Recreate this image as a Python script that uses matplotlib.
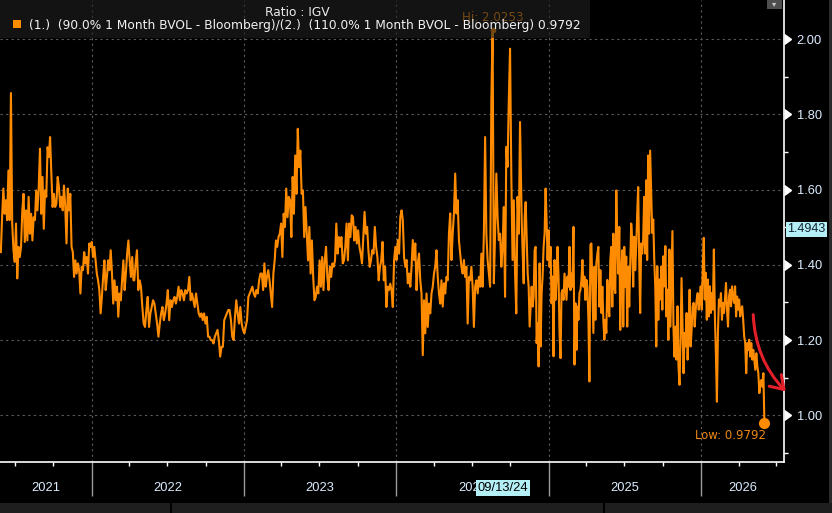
import numpy as np
import pandas as pd
import matplotlib
matplotlib.use("Agg")
import matplotlib.pyplot as plt
import matplotlib.dates as mdates
import matplotlib.markers as mmarkers
import matplotlib.transforms as mtrans
from matplotlib.patches import Rectangle, FancyArrowPatch

# ratio readings, taken off the chart piece by piece (start date, end date, values)
seg1 = ("2021-05-28", "2022-04-11")
ratio_1 = [1.434, 1.527, 1.603, 1.536, 1.572, 1.519, 1.651, 1.519, 1.857, 1.510, 1.439, 1.408,
           1.510, 1.364, 1.448, 1.421, 1.448, 1.545, 1.589, 1.461, 1.545, 1.465, 1.581, 1.483,
           1.536, 1.465, 1.527, 1.519, 1.598, 1.545, 1.607, 1.709, 1.536, 1.634, 1.496, 1.598,
           1.581, 1.713, 1.687, 1.740, 1.642, 1.554, 1.589, 1.554, 1.563, 1.634, 1.607, 1.554,
           1.581, 1.545, 1.611, 1.554, 1.457, 1.603, 1.545, 1.589, 1.448, 1.434, 1.368, 1.412,
           1.377, 1.404, 1.386, 1.324, 1.395, 1.386, 1.434, 1.404, 1.421, 1.377, 1.457, 1.448,
           1.461, 1.421, 1.448, 1.412, 1.377, 1.359, 1.333, 1.271, 1.315, 1.368, 1.412, 1.333,
           1.368, 1.412, 1.386, 1.439, 1.377, 1.297, 1.359, 1.306, 1.342, 1.262, 1.324, 1.306,
           1.359, 1.412, 1.333, 1.377, 1.430, 1.465, 1.412, 1.368, 1.421, 1.359]

seg2 = ("2022-04-13", "2023-02-16")
ratio_2 = [1.359, 1.404, 1.439, 1.333, 1.359, 1.342, 1.288, 1.244, 1.235, 1.280, 1.315, 1.235,
           1.271, 1.288, 1.306, 1.297, 1.271, 1.244, 1.209, 1.244, 1.271, 1.288, 1.253, 1.271,
           1.297, 1.333, 1.253, 1.306, 1.288, 1.306, 1.315, 1.297, 1.315, 1.342, 1.306, 1.333,
           1.324, 1.306, 1.333, 1.324, 1.333, 1.368, 1.306, 1.324, 1.306, 1.288, 1.324, 1.297,
           1.271, 1.262, 1.271, 1.253, 1.271, 1.244, 1.262, 1.209, 1.209, 1.200, 1.200, 1.191,
           1.209, 1.218, 1.227, 1.200, 1.156, 1.182, 1.182, 1.253, 1.262, 1.271, 1.280, 1.280,
           1.253, 1.209, 1.200, 1.262, 1.306, 1.271, 1.244, 1.288, 1.244, 1.227, 1.218, 1.235,
           1.253, 1.315, 1.324, 1.333, 1.342, 1.324, 1.315, 1.333, 1.324, 1.359, 1.377, 1.377,
           1.333]

seg3 = ("2023-02-19", "2023-12-27")
ratio_3 = [1.404, 1.342, 1.368, 1.386, 1.359, 1.324, 1.288, 1.377, 1.412, 1.465, 1.448, 1.474,
           1.483, 1.510, 1.421, 1.536, 1.501, 1.603, 1.527, 1.581, 1.572, 1.474, 1.634, 1.536,
           1.691, 1.589, 1.762, 1.660, 1.704, 1.589, 1.598, 1.474, 1.554, 1.483, 1.412, 1.501,
           1.377, 1.465, 1.368, 1.306, 1.315, 1.342, 1.324, 1.412, 1.342, 1.421, 1.333, 1.412,
           1.448, 1.368, 1.333, 1.395, 1.368, 1.404, 1.395, 1.412, 1.510, 1.430, 1.474, 1.448,
           1.474, 1.404, 1.412, 1.448, 1.510, 1.412, 1.510, 1.474, 1.532, 1.527, 1.465, 1.501,
           1.457, 1.492, 1.448, 1.430, 1.404, 1.474, 1.541, 1.483, 1.501, 1.439, 1.395, 1.412,
           1.439, 1.430, 1.501, 1.448, 1.421, 1.359, 1.395, 1.412, 1.461, 1.359, 1.395, 1.288,
           1.342, 1.333, 1.350, 1.333, 1.288, 1.412]

seg4 = ("2023-12-30", "2024-10-24")
ratio_4 = [1.448, 1.413, 1.466, 1.430, 1.528, 1.545, 1.519, 1.421, 1.395, 1.413, 1.351, 1.377,
           1.342, 1.395, 1.466, 1.413, 1.457, 1.333, 1.404, 1.430, 1.359, 1.324, 1.160, 1.306,
           1.218, 1.324, 1.235, 1.297, 1.271, 1.324, 1.342, 1.377, 1.395, 1.439, 1.368, 1.324,
           1.297, 1.359, 1.289, 1.351, 1.324, 1.368, 1.359, 1.483, 1.537, 1.413, 1.483, 1.537,
           1.643, 1.537, 1.572, 1.466, 1.430, 1.395, 1.377, 1.413, 1.368, 1.395, 1.244, 1.368,
           1.359, 1.395, 1.342, 1.235, 1.342, 1.359, 1.324, 1.368, 1.342, 1.430, 1.342, 1.483,
           1.740, 1.483, 1.413, 1.377, 1.342, 1.838, 2.0253, 1.351, 1.483, 1.643, 1.528, 1.466,
           1.483, 1.395, 1.448, 1.554, 1.315, 1.714, 1.661, 1.838, 1.975, 1.643, 1.413, 1.572,
           1.377, 1.271, 1.581, 1.483, 1.780]

seg5 = ("2024-10-28", "2025-09-01")
ratio_5 = [1.519, 1.430, 1.351, 1.528, 1.567, 1.475, 1.377, 1.342, 1.236, 1.289, 1.342, 1.289,
           1.316, 1.439, 1.448, 1.192, 1.245, 1.130, 1.404, 1.183, 1.325, 1.369, 1.448, 1.483,
           1.603, 1.519, 1.413, 1.492, 1.395, 1.448, 1.298, 1.369, 1.157, 1.413, 1.307, 1.360,
           1.448, 1.369, 1.219, 1.152, 1.325, 1.333, 1.307, 1.377, 1.342, 1.307, 1.369, 1.342,
           1.448, 1.333, 1.377, 1.342, 1.501, 1.135, 1.298, 1.174, 1.289, 1.254, 1.325, 1.333,
           1.360, 1.413, 1.342, 1.369, 1.307, 1.360, 1.342, 1.254, 1.090, 1.453, 1.457, 1.342,
           1.219, 1.395, 1.254, 1.404, 1.430, 1.448, 1.289, 1.386, 1.272, 1.342, 1.254, 1.201,
           1.254, 1.219, 1.360, 1.289, 1.263, 1.413, 1.448, 1.289, 1.483, 1.342, 1.325, 1.598,
           1.466, 1.377, 1.501, 1.227, 1.369, 1.439, 1.236, 1.448, 1.342, 1.422, 1.236, 1.395,
           1.289, 1.404, 1.510, 1.466, 1.342, 1.475, 1.386, 1.448, 1.536, 1.607, 1.413, 1.272,
           1.457, 1.430, 1.466, 1.581, 1.430, 1.625, 1.413, 1.691, 1.483, 1.704]

seg6 = ("2025-09-06", "2026-06-02")
ratio_6 = [1.485, 1.521, 1.414, 1.343, 1.183, 1.396, 1.254, 1.361, 1.308, 1.396, 1.281, 1.423,
           1.343, 1.450, 1.263, 1.334, 1.201, 1.441, 1.236, 1.370, 1.490, 1.236, 1.156, 1.236,
           1.148, 1.290, 1.130, 1.081, 1.201, 1.365, 1.245, 1.112, 1.219, 1.183, 1.272, 1.148,
           1.219, 1.334, 1.183, 1.228, 1.290, 1.299, 1.236, 1.281, 1.308, 1.325, 1.281, 1.308,
           1.343, 1.281, 1.388, 1.472, 1.308, 1.379, 1.254, 1.361, 1.263, 1.343, 1.272, 1.325,
           1.281, 1.441, 1.263, 1.165, 1.036, 1.219, 1.308, 1.290, 1.325, 1.254, 1.299, 1.272,
           1.308, 1.352, 1.281, 1.236, 1.316, 1.334, 1.290, 1.343, 1.316, 1.299, 1.343, 1.263,
           1.316, 1.281, 1.308, 1.263, 1.281, 1.290, 1.254, 1.210, 1.192, 1.112, 1.192, 1.174,
           1.201, 1.156, 1.192, 1.148, 1.174, 1.148, 1.121, 1.165, 1.130, 1.112, 1.059, 1.085,
           1.094, 1.076, 1.112, 0.9792]

hi_value = 2.0253
low_value = 0.9792
cursor_date = "2024-09-13"
cursor_value = 1.4943
years = [2021, 2022, 2023, 2024, 2025, 2026]
yticks = [1.0, 1.2, 1.4, 1.6, 1.8, 2.0]

# build the series
dates, vals = [], []
for (start, end), v in [(seg1, ratio_1), (seg2, ratio_2), (seg3, ratio_3),
                        (seg4, ratio_4), (seg5, ratio_5), (seg6, ratio_6)]:
    dates.extend(pd.date_range(start, end, periods=len(v)))
    vals.extend(v)
s = pd.Series(vals, index=pd.DatetimeIndex(dates))

ORANGE = "#ff8c00"
LABEL = "#dcecff"
GRID = "#5c5c5c"

fig = plt.figure(figsize=(8.32, 5.13), dpi=100, facecolor="black")
ax = fig.add_axes([0, 51 / 513, 784 / 832, 462 / 513], facecolor="black")

xmin, xmax = pd.Timestamp("2021-05-26"), pd.Timestamp("2026-07-19")
ax.set_xlim(xmin, xmax)
ax.set_ylim(0.8758, 2.1045)

ax.plot(s.index, s.values, color=ORANGE, lw=1.5, zorder=3)

# grid
ax.set_yticks(yticks)
ax.set_yticks(np.arange(0.9, 2.0, 0.2), minor=True)
ax.xaxis.set_major_locator(mdates.YearLocator())
ax.xaxis.set_minor_locator(mdates.MonthLocator(bymonth=[4, 7, 10]))
ax.grid(True, which="major", color=GRID, linestyle=(0, (2, 3)), linewidth=0.8)

# spines / ticks
for side in ["top", "left"]:
    ax.spines[side].set_visible(False)
for side in ["bottom", "right"]:
    ax.spines[side].set_color("white")
    ax.spines[side].set_linewidth(1.2)
ax.yaxis.tick_right()
ax.tick_params(axis="y", which="major", length=0, pad=9, labelsize=9.3, labelcolor=LABEL)
ax.tick_params(axis="y", which="minor", length=3, width=1, color="white", direction="out")
ax.tick_params(axis="x", which="major", length=24.5, width=1, color="#9a9a9a",
               labelbottom=False)
ax.tick_params(axis="x", which="minor", length=3, width=1, color="white")
ax.set_yticklabels([f"{t:.2f}" for t in yticks], fontfamily="Liberation Sans")

ytrans = mtrans.blended_transform_factory(ax.transAxes, ax.transData)
ax.plot([1.0] * len(yticks), yticks, ls="none", marker=mmarkers.CARETRIGHTBASE, ms=7,
        color="white", transform=ytrans, clip_on=False, zorder=6)

# year labels centred in each visible year
xtrans = mtrans.blended_transform_factory(ax.transData, ax.transAxes)
for yr in years:
    a = max(pd.Timestamp(f"{yr}-01-01"), xmin)
    b = min(pd.Timestamp(f"{yr + 1}-01-01"), xmax)
    mid = a + (b - a) / 2
    ax.text(mid, -0.056, str(yr), transform=xtrans, ha="center", va="center",
            color=LABEL, fontsize=9.3, fontfamily="Liberation Sans")

# cursor boxes
ax.text(pd.Timestamp(cursor_date), -0.056, pd.Timestamp(cursor_date).strftime("%m/%d/%y"),
        transform=xtrans, ha="center", va="center", color="black", fontsize=9.3,
        fontfamily="Liberation Sans", zorder=8,
        bbox=dict(boxstyle="square,pad=0.15", fc="#b4eff6", ec="none"))
ax.text(1.004, cursor_value, f"{cursor_value:.4f}", transform=ytrans, ha="left", va="center",
        color="#102030", fontsize=9, fontfamily="Liberation Sans", zorder=8,
        bbox=dict(boxstyle="square,pad=0.12", fc="#b4eff6", ec="none"))

# hi / low
hi_date = s.idxmax()
low_date = s.idxmin()
ax.plot(hi_date, hi_value, "o", ms=3, color=ORANGE, zorder=4)
ax.annotate(f"Hi: {hi_value:.4f}", xy=(hi_date, hi_value), xytext=(0, 9),
            textcoords="offset points", ha="center", va="center", color=ORANGE,
            fontsize=8.6, zorder=4)
ax.plot(low_date, low_value, "o", ms=7, color=ORANGE, zorder=6)
ax.annotate(f"Low: {low_value:.4f}", xy=(low_date, low_value), xytext=(1, -4),
            textcoords="offset points", ha="right", va="top", color="#ef8a12",
            fontsize=8.4, zorder=6)

# legend panel
ax.add_patch(Rectangle((0, 1 - 38 / 462), 590 / 784, 38 / 462, transform=ax.transAxes,
                       fc="#202020", ec="none", alpha=0.62, zorder=5, clip_on=False))
ax.text(297 / 784, 1 - 12 / 462, "Ratio : IGV", transform=ax.transAxes, ha="center",
        va="center", color="#ececec", fontsize=8.8, zorder=7)
ax.add_patch(Rectangle((13 / 784, 1 - 28 / 462), 8 / 784, 8 / 462, transform=ax.transAxes,
                       fc=ORANGE, ec="none", zorder=7, clip_on=False))
ax.text(29 / 784, 1 - 25 / 462,
        "(1.)  (90.0% 1 Month BVOL - Bloomberg)/(2.)  (110.0% 1 Month BVOL - Bloomberg) "
        f"{s.iloc[-1]:.4f}",
        transform=ax.transAxes, ha="left", va="center", color="#f2f2f2", fontsize=8.8,
        zorder=7)

# hand drawn red arrow
arrow = FancyArrowPatch((pd.Timestamp("2026-05-06"), 1.275), (pd.Timestamp("2026-07-28"), 1.058),
                        connectionstyle="arc3,rad=0.2",
                        arrowstyle="->,head_length=0.45,head_width=0.3", mutation_scale=20,
                        color="#e3202a", lw=2.2, zorder=9, clip_on=False)
ax.add_patch(arrow)

# window chrome
fig.patches.append(Rectangle((0, 0), 1, 10 / 513, transform=fig.transFigure,
                             fc="#1e1e1e", ec="none"))
for xp in [170, 603]:
    fig.patches.append(Rectangle((xp / 832, 0), 1.5 / 832, 10 / 513, transform=fig.transFigure,
                                 fc="#000000", ec="none"))
fig.patches.append(Rectangle((829 / 832, 10 / 513), 3 / 832, 1, transform=fig.transFigure,
                             fc="#2a2a2a", ec="none"))
fig.patches.append(Rectangle((767 / 832, 1 - 9 / 513), 15 / 832, 9 / 513,
                             transform=fig.transFigure, fc="#4e4e4e", ec="none"))
fig.text(774.5 / 832, 1 - 4 / 513, "\u25be", ha="center", va="center", fontsize=6,
         color="#c8c8c8")

fig.savefig("out.png", dpi=100, facecolor="black")
